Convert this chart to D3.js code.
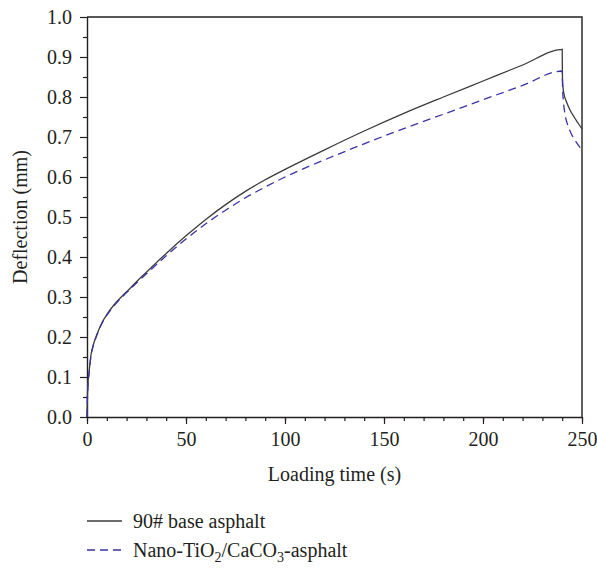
<!DOCTYPE html>
<html>
<head>
<meta charset="utf-8">
<script src="https://cdn.jsdelivr.net/npm/d3@7"></script>
<style>
  html, body { margin: 0; padding: 0; background: #fff; }
  svg { display: block; }
  text { font-family: "Liberation Serif", "DejaVu Serif", serif; fill: #231f20; }
</style>
</head>
<body>
<svg id="chart" width="597" height="572"></svg>
<script>
// Deflection under load (0-240 s) and recovery after unloading (240-250 s)
const timeBase = [0, 0.2, 0.5, 1, 2, 3, 4, 6, 8, 10, 12, 15, 20, 25, 30, 40, 50, 60, 70, 80, 90, 100, 120, 140, 160, 180, 200, 220, 240,
                  240.1, 240.3, 241, 242, 244, 246, 248, 250];
const deflBase = [0, 0.05, 0.085, 0.11, 0.155, 0.177, 0.193, 0.219, 0.24, 0.256, 0.27, 0.288, 0.313, 0.338, 0.362, 0.409, 0.453, 0.494, 0.531, 0.564, 0.593, 0.619, 0.668, 0.715, 0.759, 0.8, 0.84, 0.88, 0.919,
                  0.86, 0.83, 0.805, 0.79, 0.767, 0.75, 0.735, 0.72];

const timeNano = [0, 0.2, 0.5, 1, 2, 3, 4, 6, 8, 10, 12, 15, 20, 25, 30, 40, 50, 60, 70, 80, 90, 100, 120, 140, 160, 180, 200, 220, 240,
                  240.2, 240.6, 241.5, 243, 245, 247, 250];
const deflNano = [0, 0.045, 0.08, 0.106, 0.152, 0.175, 0.191, 0.217, 0.238, 0.254, 0.268, 0.286, 0.311, 0.335, 0.358, 0.403, 0.445, 0.483, 0.517, 0.548, 0.575, 0.6, 0.643, 0.683, 0.721, 0.757, 0.793, 0.829, 0.865,
                  0.82, 0.79, 0.755, 0.727, 0.704, 0.688, 0.667];

const seriesNames = ["90# base asphalt", "Nano-TiO2/CaCO3-asphalt"];
const xTicks = [0, 50, 100, 150, 200, 250];
const yTicks = [0.0, 0.1, 0.2, 0.3, 0.4, 0.5, 0.6, 0.7, 0.8, 0.9, 1.0];

const svg = d3.select("#chart");
const m = { left: 87, top: 17, width: 495, height: 400 };

const x = d3.scaleLinear().domain([0, 250]).range([m.left, m.left + m.width]);
const y = d3.scaleLinear().domain([0, 1]).range([m.top + m.height, m.top]);

const axisColor = "#231f20";
const fontSize = 20;

// minor ticks
svg.append("g")
  .attr("transform", `translate(0,${m.top + m.height})`)
  .call(d3.axisBottom(x).tickValues(d3.range(0, 251, 10)).tickSize(4).tickFormat(""))
  .call(g => g.select(".domain").remove());
svg.append("g")
  .attr("transform", `translate(${m.left},0)`)
  .call(d3.axisLeft(y).tickValues(d3.range(0.05, 1, 0.1)).tickSize(4).tickFormat(""))
  .call(g => g.select(".domain").remove());

// major axes
svg.append("g")
  .attr("transform", `translate(0,${m.top + m.height})`)
  .call(d3.axisBottom(x).tickValues(xTicks).tickSize(7).tickPadding(8).tickSizeOuter(0).tickFormat(d3.format("d")));
svg.append("g")
  .attr("transform", `translate(${m.left},0)`)
  .call(d3.axisLeft(y).tickValues(yTicks).tickSize(7).tickPadding(8).tickSizeOuter(0).tickFormat(d3.format(".1f")));

svg.selectAll(".tick line").attr("stroke", axisColor).attr("stroke-width", 1.2);
svg.selectAll(".domain").attr("stroke", axisColor).attr("stroke-width", 1.4);
svg.selectAll(".tick text")
  .style("font-family", '"Liberation Serif", "DejaVu Serif", serif')
  .style("font-size", fontSize + "px")
  .attr("fill", axisColor);

// top and right frame
svg.append("path")
  .attr("d", `M${m.left},${m.top}H${m.left + m.width}V${m.top + m.height}`)
  .attr("fill", "none").attr("stroke", axisColor).attr("stroke-width", 1.4);

// curves
const line = d3.line().x(d => x(d[0])).y(d => y(d[1])).curve(d3.curveMonotoneX);
const baseData = d3.zip(timeBase, deflBase);
const nanoData = d3.zip(timeNano, deflNano);

svg.append("path").datum(baseData)
  .attr("d", line)
  .attr("fill", "none").attr("stroke", "#3b3b3b").attr("stroke-width", 1.3);
svg.append("path").datum(nanoData)
  .attr("d", line)
  .attr("fill", "none").attr("stroke", "#3a33a6").attr("stroke-width", 1.3)
  .attr("stroke-dasharray", "8,5");

// axis titles
svg.append("text")
  .attr("x", m.left + m.width / 2).attr("y", 481)
  .attr("text-anchor", "middle")
  .style("font-size", fontSize + "px")
  .text("Loading time (s)");
svg.append("text")
  .attr("transform", `translate(27,${m.top + m.height / 2}) rotate(-90)`)
  .attr("text-anchor", "middle")
  .style("font-size", fontSize + "px")
  .text("Deflection (mm)");

// legend
const legY = [521, 550];
svg.append("line")
  .attr("x1", 87).attr("x2", 122).attr("y1", legY[0]).attr("y2", legY[0])
  .attr("stroke", "#3b3b3b").attr("stroke-width", 1.3);
svg.append("line")
  .attr("x1", 87).attr("x2", 122).attr("y1", legY[1]).attr("y2", legY[1])
  .attr("stroke", "#3a33a6").attr("stroke-width", 1.3).attr("stroke-dasharray", "8,5");

svg.append("text")
  .attr("x", 133).attr("y", legY[0] + 7)
  .style("font-size", fontSize + "px")
  .text(seriesNames[0]);

// second entry with chemical subscripts
const t2 = svg.append("text")
  .attr("x", 133).attr("y", legY[1] + 7)
  .style("font-size", fontSize + "px");
const parts = [["Nano-TiO", false], ["2", true], ["/CaCO", false], ["3", true], ["-asphalt", false]];
let shift = 0;
parts.forEach(([s, sub]) => {
  const target = sub ? 5 : 0;
  t2.append("tspan")
    .attr("dy", target - shift)
    .style("font-size", sub ? "14px" : null)
    .text(s);
  shift = target;
});
</script>
</body>
</html>
